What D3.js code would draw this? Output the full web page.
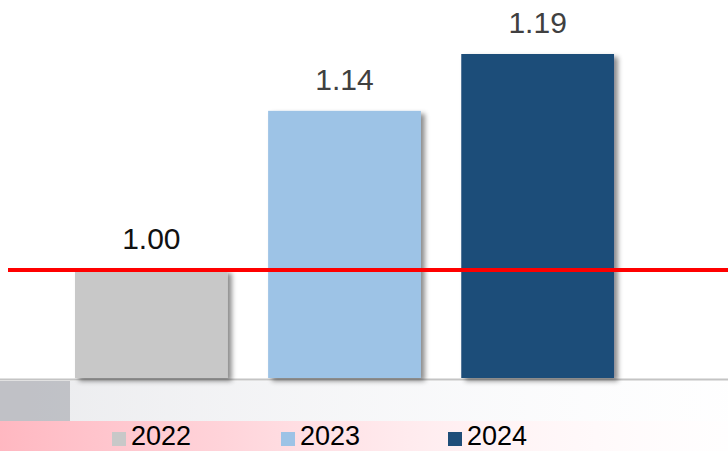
<!DOCTYPE html>
<html>
<head>
<meta charset="utf-8">
<script src="https://cdn.jsdelivr.net/npm/d3@7"></script>
<style>
  html, body { margin: 0; padding: 0; background: #fff; }
  svg { display: block; font-family: "Liberation Sans", Arial, sans-serif; }
</style>
</head>
<body>
<svg id="chart" width="728" height="451"></svg>
<script>
// Index values per year (2022 = 1.00 baseline)
const years = ["2022", "2023", "2024"];
const values = [1.00, 1.14, 1.19];
const baseline = 1.00;

const barColors = ["#c8c8c8", "#9dc3e6", "#1f4e79"];
const labelColors = ["#111111", "#404040", "#404040"];

const W = 728, H = 451;
const svg = d3.select("#chart");

// soft backdrop tones along the bottom
const defs = svg.append("defs");
const pink = defs.append("linearGradient").attr("id", "pinkBand").attr("x1", 0).attr("x2", 1);
pink.append("stop").attr("offset", "0%").attr("stop-color", "#ff7f90").attr("stop-opacity", 0.8);
pink.append("stop").attr("offset", "30%").attr("stop-color", "#ff8c9c").attr("stop-opacity", 0.55);
pink.append("stop").attr("offset", "65%").attr("stop-color", "#ffb0bc").attr("stop-opacity", 0.25);
pink.append("stop").attr("offset", "100%").attr("stop-color", "#ffe0e6").attr("stop-opacity", 0.05);
const grey = defs.append("linearGradient").attr("id", "greyBand").attr("x1", 0).attr("x2", 1);
grey.append("stop").attr("offset", "0%").attr("stop-color", "#b9bbc3").attr("stop-opacity", 0.6);
grey.append("stop").attr("offset", "60%").attr("stop-color", "#d9dbe3").attr("stop-opacity", 0.35);
grey.append("stop").attr("offset", "100%").attr("stop-color", "#eef0f6").attr("stop-opacity", 0.1);

const shadow = defs.append("filter").attr("id", "barShadow")
  .attr("x", "-10%").attr("y", "-10%").attr("width", "130%").attr("height", "130%");
shadow.append("feDropShadow").attr("dx", 4).attr("dy", 3).attr("stdDeviation", 2.5)
  .attr("flood-color", "#000").attr("flood-opacity", 0.45);

svg.append("rect").attr("x", 0).attr("y", 381).attr("width", W).attr("height", 40)
  .attr("fill", "url(#greyBand)").attr("opacity", 0.5);
svg.append("rect").attr("x", 0).attr("y", 421).attr("width", W).attr("height", 30)
  .attr("fill", "url(#pinkBand)").attr("opacity", 0.7);
svg.append("rect").attr("x", 0).attr("y", 381).attr("width", 70).attr("height", 40)
  .attr("fill", "#9c9ea6").attr("opacity", 0.55);

// scales
const x = d3.scaleBand().domain(years).range([54.7, 634.3]).paddingInner(0.209).paddingOuter(0.105);
const y = d3.scaleLinear().domain([0.905, 1.19]).range([378, 54]);

// floor line
svg.append("line").attr("x1", 0).attr("x2", W).attr("y1", 379.5).attr("y2", 379.5)
  .attr("stroke", "#c4c4c4").attr("stroke-width", 2);

// bars
svg.append("g").selectAll("rect").data(values).join("rect")
  .attr("x", (d, i) => x(years[i]))
  .attr("y", d => y(d))
  .attr("width", x.bandwidth())
  .attr("height", d => y.range()[0] - y(d))
  .attr("fill", (d, i) => barColors[i])
  .attr("filter", "url(#barShadow)");

// value labels
svg.append("g").selectAll("text").data(values).join("text")
  .attr("x", (d, i) => x(years[i]) + x.bandwidth() / 2)
  .attr("y", d => y(d) - 21)
  .attr("text-anchor", "middle")
  .attr("font-size", 30)
  .attr("fill", (d, i) => labelColors[i])
  .text(d => d3.format(".2f")(d));

// baseline reference line
svg.append("line").attr("x1", 8).attr("x2", W).attr("y1", y(baseline)).attr("y2", y(baseline))
  .attr("stroke", "#ff0000").attr("stroke-width", 4);

// legend
const legendX = [112, 281, 448];
const lg = svg.append("g").selectAll("g").data(years).join("g")
  .attr("transform", (d, i) => `translate(${legendX[i]},0)`);
lg.append("rect").attr("x", 0).attr("y", 432).attr("width", 14).attr("height", 14)
  .attr("fill", (d, i) => barColors[i]);
lg.append("text").attr("x", 19).attr("y", 445).attr("font-size", 27).attr("fill", "#000")
  .text(d => d);
</script>
</body>
</html>
